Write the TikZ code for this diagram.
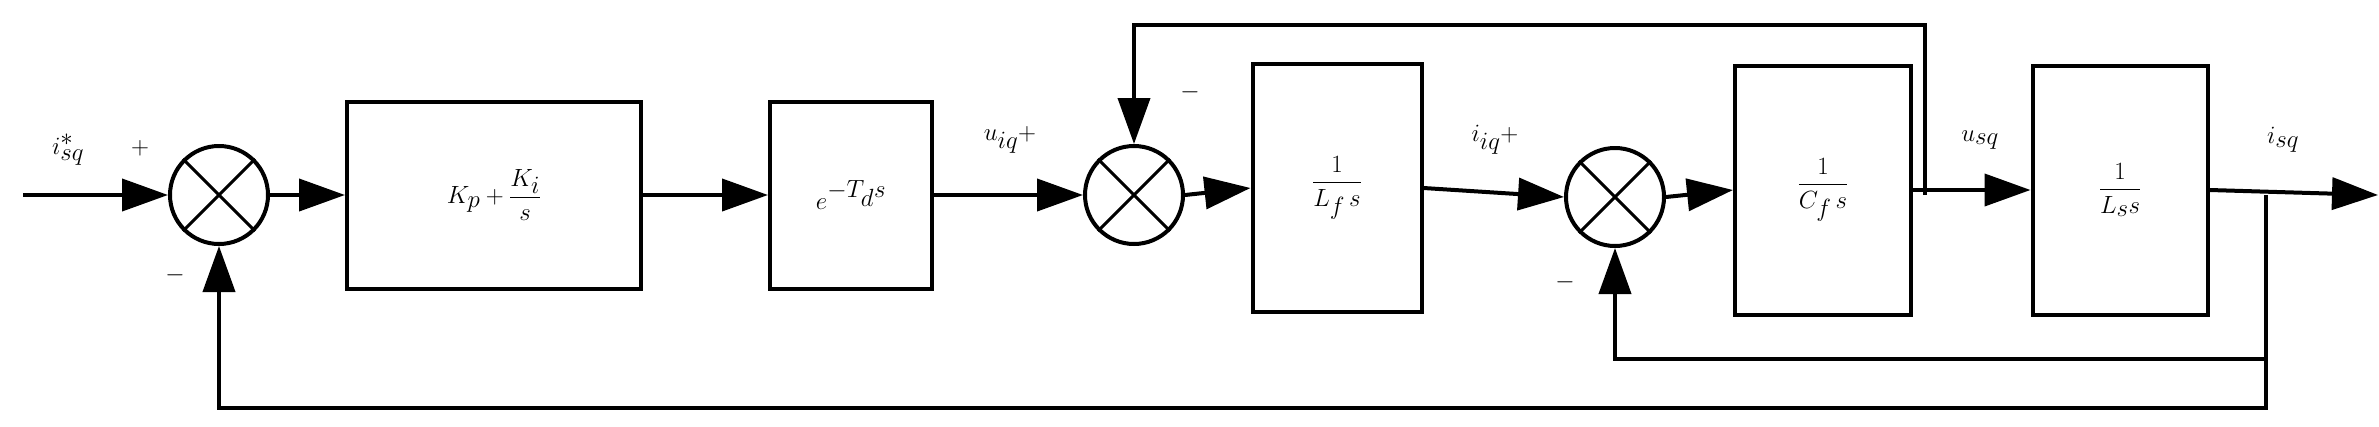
\documentclass[tikz,border=0pt]{standalone}
\usepackage{amsmath}
\usetikzlibrary{arrows.meta}
\begin{document}
\begin{tikzpicture}[x=1pt,y=-1pt,line width=4pt,
  blk/.style={draw,rectangle,inner sep=0pt,font=\fontsize{62}{70}\selectfont},
  sumj/.style={draw,circle,minimum size=98pt,inner sep=0pt},
  lbl/.style={font=\fontsize{62}{70}\selectfont,inner sep=0pt},
  arr/.style={-{Triangle[length=46pt,width=32pt]}}]
\useasboundingbox (0,0) rectangle (2379,426);
% sums
\node[sumj] (s1) at (219,195) {};
\node[sumj] (s2) at (1134,195) {};
\node[sumj] (s3) at (1615,197) {};
\foreach \s in {s1,s2,s3}{
  \draw[line width=3pt] (\s.45) -- (\s.225) (\s.135) -- (\s.315);}
% blocks
\node[blk,minimum width=294pt,minimum height=187pt] (pib) at (494,195) {$K_p+\dfrac{K_i}{s}$};
\node[blk,minimum width=162pt,minimum height=187pt] (dl) at (851,195) {\raisebox{-10pt}{$e^{-T_d s}$}};
\node[blk,minimum width=169pt,minimum height=248pt] (lf) at (1337,188) {$\dfrac{1}{L_f\,s}$};
\node[blk,minimum width=176pt,minimum height=249pt] (cf) at (1823,190) {$\dfrac{1}{C_f\,s}$};
\node[blk,minimum width=175pt,minimum height=249pt] (ls) at (2120,190) {$\dfrac{1}{L_s s}$};
% coordinates
\coordinate (in) at (23,195);
\coordinate (out) at (2378,195);
\coordinate (tapu) at (1925,195);
\coordinate (tapi) at (2266,195);
% forward path
\draw[arr] (in) -- (s1.west);
\draw[arr] (s1.east) -- (pib.west);
\draw[arr] (pib.east) -- (dl.west);
\draw[arr] (dl.east) -- (s2.west);
\draw[arr] (s2.east) -- (lf.west);
\draw[arr] (lf.east) -- (s3.west);
\draw[arr] (s3.east) -- (cf.west);
\draw[arr] (cf.east) -- (ls.west);
\draw[arr] (ls.east) -- (out);
% feedbacks
\draw[arr] (tapu) -- (tapu |- 0,25) -- (s2 |- 0,25) -- (s2.north);
\draw[arr] (tapi) -- (tapi |- 0,359) -- (s3 |- 0,359) -- (s3.south);
\draw[arr] (tapi |- 0,359) -- (tapi |- 0,408) -- (s1 |- 0,408) -- (s1.south);
% labels
\node[lbl] (l1) at (68,150) {$i^{*}_{sq}$};
\node[lbl] (p1) at (140,148) {$+$};
\node[lbl] (m1) at (175,275) {$-$};
\node[lbl] (l2) at (1010,140) {$u_{iq}{+}$};
\node[lbl] (m2) at (1190,92) {$-$};
\node[lbl] (l3) at (1495,140) {$i_{iq}{+}$};
\node[lbl] (m3) at (1565,282) {$-$};
\node[lbl] (l4) at (1980,140) {$u_{sq}$};
\node[lbl] (l5) at (2283,140) {$i_{sq}$};
\end{tikzpicture}
\end{document}
